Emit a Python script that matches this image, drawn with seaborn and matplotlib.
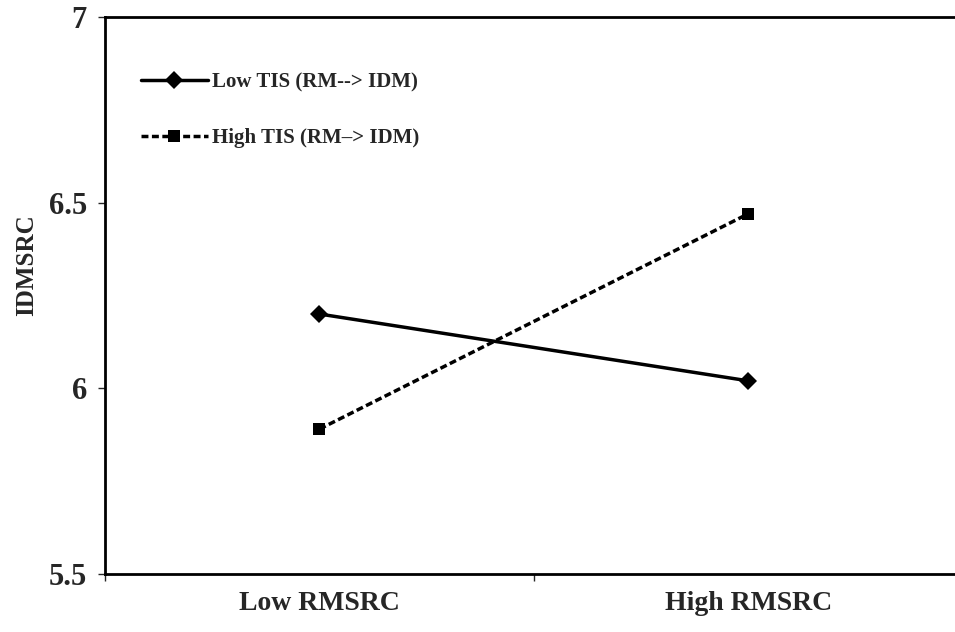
import pandas as pd
import seaborn as sns
import matplotlib.pyplot as plt
from matplotlib.ticker import FixedLocator

# values
categories = ['Low RMSRC', 'High RMSRC']
low_tis = [6.20, 6.02]
high_tis = [5.89, 6.47]
series_names = ['Low TIS (RM--> IDM)', 'High TIS (RM\u2013> IDM)']
y_ticks = [5.5, 6, 6.5, 7]

df = pd.DataFrame({
    'x': list(range(len(categories))) * 2,
    'value': low_tis + high_tis,
    'series': [series_names[0]] * len(low_tis) + [series_names[1]] * len(high_tis),
})

sns.set_style('white')
plt.rcParams['font.family'] = ['Liberation Serif', 'DejaVu Serif']
plt.rcParams['font.weight'] = 'bold'

fig = plt.figure(figsize=(9.55, 6.32), dpi=100)
ax = fig.add_axes([0.110, 0.092, 0.898, 0.881])

sns.lineplot(data=df, x='x', y='value', style='series', ax=ax,
             color='black', markers={series_names[0]: 'D', series_names[1]: 's'},
             dashes={series_names[0]: '', series_names[1]: (2, 1)},
             markersize=9, linewidth=2.5, markeredgewidth=0)

ax.set_xlim(-0.5, 1.5)
ax.set_ylim(5.5, 7)
ax.set_yticks(y_ticks)
ax.set_yticklabels(['5.5', '6', '6.5', '7'], fontsize=22, fontweight='bold')
ax.set_xticks(range(len(categories)))
ax.set_xticklabels(categories, fontsize=20, fontweight='bold')
ax.tick_params(axis='x', which='major', length=0, pad=12)
ax.xaxis.set_minor_locator(FixedLocator([-0.5, 0.5, 1.5]))
ax.tick_params(axis='x', which='minor', length=5, width=1, direction='out', bottom=True)
ax.tick_params(axis='y', length=5, width=1, direction='out', left=True, pad=8)
ax.set_xlabel('')
ax.set_ylabel('IDMSRC', fontsize=18, fontweight='bold')
ax.yaxis.set_label_coords(-0.078, 0.555)

for side in ['left', 'bottom', 'top', 'right']:
    ax.spines[side].set_color('black')
    ax.spines[side].set_linewidth(2)

ax.legend(loc='upper left', bbox_to_anchor=(0.02, 0.935), frameon=False,
          handlelength=3.2, labelspacing=1.75, handletextpad=0.2,
          prop={'weight': 'bold', 'size': 15})

plt.savefig('out.png', dpi=100)
plt.close()
